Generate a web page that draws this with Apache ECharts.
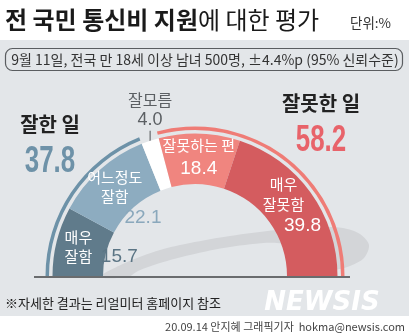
<!DOCTYPE html>
<html><head><meta charset="utf-8">
<script src="https://cdn.jsdelivr.net/npm/echarts/dist/echarts.min.js"></script>
<style>html,body{margin:0;padding:0;background:#fff}#c{width:409px;height:334px}</style>
</head><body><div id="c"></div><script>
// ---- data ----
const categories = ['매우 잘함', '어느정도 잘함', '잘모름', '잘못하는 편', '매우 잘못함'];
const values = [15.7, 22.1, 4.0, 18.4, 39.8];
const labelTexts = ['매우\n잘함', '어느정도\n잘함', '잘모름', '잘못하는 편', '매우\n잘못함'];
const groupNames = ['잘한 일', '잘모름', '잘못한 일'];
const groupMembers = [[0, 1], [2], [3, 4]];
const titleBold = '전 국민 통신비 지원';
const titleRest = '에 대한 평가';
const unitText = '단위:%';
const subtitle = '9월 11일, 전국 만 18세 이상 남녀 500명, ±4.4%p (95% 신뢰수준)';
const noteText = '※자세한 결과는 리얼미터 홈페이지 참조';
const creditText = '20.09.14 안지혜 그래픽기자  hokma@newsis.com';

// ---- style ----
const KR = "'Noto Sans CJK KR', 'Noto Sans', sans-serif";
const NUM = "'Liberation Sans', 'Roboto', sans-serif";
const colors = ['#607b8b', '#8dacc0', '#ffffff', '#f0857f', '#d45c5f'];
const groupColors = ['#6d92a8', 'rgba(0,0,0,0)', '#ef7c76'];
const CX = 195, CY = 276;

const groupValues = groupMembers.map(m => +m.reduce((s, i) => s + values[i], 0).toFixed(1));

function mainLabel(i) {
  const v = values[i].toFixed(1);
  const base = { show: true, position: 'inside', color: '#fff', fontFamily: KR, fontSize: 15, lineHeight: 19 };
  if (i === 0 || i === 1) return Object.assign(base, { formatter: labelTexts[i] });
  if (i === 2) return {
    show: true, position: 'outside', formatter: '{t|' + labelTexts[i] + '}\n{n|' + v + '}',
    rich: { t: { fontFamily: KR, fontSize: 16, color: '#5b5f63', lineHeight: 22, align: 'center' },
            n: { fontFamily: NUM, fontSize: 18, color: '#5b5f63', lineHeight: 18, align: 'center' } }
  };
  if (i === 3) return Object.assign(base, {
    formatter: '{t|' + labelTexts[i] + '}\n{n|' + v + '}',
    rich: { t: { fontFamily: KR, fontSize: 15, color: '#fff', lineHeight: 25 },
            n: { fontFamily: NUM, fontSize: 19, color: '#fff', lineHeight: 22 } }
  });
  const parts = labelTexts[i].split('\n').map(s => '{t|' + s + '}');
  return Object.assign(base, {
    formatter: parts.join('\n') + '\n{n|' + v + '}',
    rich: { t: { fontFamily: KR, fontSize: 15, color: '#fff', lineHeight: 20, padding: [0, 18, 0, 0] },
            n: { fontFamily: NUM, fontSize: 19, color: '#fff', lineHeight: 22, padding: [0, 0, 0, 20] } }
  });
}

const numColors = ['#5b7585', '#8aa8bc'];

const chart = echarts.init(document.getElementById('c'), null, { renderer: 'canvas' });
chart.setOption({
  animation: false,
  backgroundColor: '#ffffff',
  graphic: [
    { type: 'rect', z: -10, shape: { x: 0, y: 40, width: 409, height: 276 }, style: { fill: '#e3e6e9' } },
    { type: 'polygon', z: -5, shape: { smooth: 0.3, points: [
      [100, 277], [125, 263], [160, 250], [190, 243], [230, 236], [277, 230], [320, 227], [343, 228],
      [360, 234], [369, 245], [364, 258], [350, 266], [335, 270], [318, 271], [300, 252], [277, 243],
      [230, 247], [190, 255], [160, 263], [138, 271], [128, 277]] }, style: { fill: '#d3d5d8' } },
    { type: 'rect', z: 1, shape: { x: 5.5, y: 48.5, width: 397, height: 22, r: 7 }, style: { fill: 'none', stroke: '#5a5d60', lineWidth: 1.2 } },
    { type: 'text', z: 1, x: 5, y: 20, style: { text: '{b|' + titleBold + '}{r|' + titleRest + '}', verticalAlign: 'middle',
      rich: { b: { fontFamily: KR, fontSize: 24, fontWeight: 'bold', fill: '#1a1a1a' },
              r: { fontFamily: KR, fontSize: 24, fontWeight: 'normal', fill: '#1a1a1a' } } } },
    { type: 'text', z: 1, x: 350, y: 23, style: { text: unitText, fontFamily: KR, fontSize: 13.5, fill: '#333', verticalAlign: 'middle' } },
    { type: 'text', z: 1, x: 205, y: 59.5, style: { text: subtitle, fontFamily: KR, fontSize: 14, fill: '#333', align: 'center', verticalAlign: 'middle' } },
    { type: 'text', z: 1, x: 50, y: 124, style: { text: groupNames[0], fontFamily: KR, fontSize: 20, fontWeight: 'bold', fill: '#222', align: 'center', verticalAlign: 'middle' } },
    { type: 'text', z: 1, x: 50, y: 162, scaleX: 0.7, style: { text: groupValues[0].toFixed(1), fontFamily: NUM, fontSize: 37, fontWeight: 'bold', fill: '#6e92a8', align: 'center', verticalAlign: 'middle' } },
    { type: 'text', z: 1, x: 321, y: 103, style: { text: groupNames[2], fontFamily: KR, fontSize: 20, fontWeight: 'bold', fill: '#222', align: 'center', verticalAlign: 'middle' } },
    { type: 'text', z: 1, x: 321, y: 141, scaleX: 0.7, style: { text: groupValues[2].toFixed(1), fontFamily: NUM, fontSize: 37, fontWeight: 'bold', fill: '#e8636a', align: 'center', verticalAlign: 'middle' } },
    { type: 'line', z: 100, shape: { x1: 34, y1: 277, x2: 350, y2: 277 }, style: { stroke: '#6a6c6e', lineWidth: 2 } },
    { type: 'text', z: 1, x: 5, y: 303, style: { text: noteText, fontFamily: KR, fontSize: 13, fill: '#222', verticalAlign: 'middle' } },
    { type: 'text', z: 1, x: 322, y: 303, style: { text: 'NEWSIS', fontFamily: "'DejaVu Sans', sans-serif", fontSize: 26, fontWeight: 'bold', fontStyle: 'italic', fill: '#ffffff', align: 'center', verticalAlign: 'middle' } },
    { type: 'text', z: 1, x: 405, y: 327, style: { text: creditText, fontFamily: KR, fontSize: 11, fill: '#444', align: 'right', verticalAlign: 'middle' } }
  ],
  series: [
    {
      type: 'pie', center: [CX, CY], radius: [92, 142.5], startAngle: 180, endAngle: 0, clockwise: true,
      silent: true, avoidLabelOverlap: false, z: 3,
      data: categories.map((c, i) => ({
        name: c, value: values[i], itemStyle: { color: colors[i] }, label: mainLabel(i),
        labelLine: i === 2 ? { show: true, length: 12, length2: 0, lineStyle: { color: '#4d5054', width: 1 } } : { show: false }
      })),
      labelLayout: function (p) {
        if (p.dataIndex !== 2 || !p.labelLinePoints) return {};
        const a = p.labelLinePoints[0];
        return { x: a[0], y: a[1] - 12, align: 'center', verticalAlign: 'bottom',
          labelLinePoints: [[a[0], a[1] + 6], [a[0], a[1] - 10], [a[0], a[1] - 10]] };
      }
    },
    {
      type: 'pie', center: [CX, CY], radius: [146, 149.5], startAngle: 180, endAngle: 0, clockwise: true,
      silent: true, label: { show: false }, labelLine: { show: false }, z: 3,
      data: groupNames.map((g, i) => ({ name: g, value: groupValues[i], itemStyle: { color: groupColors[i] } }))
    },
    {
      type: 'pie', center: [CX, CY], radius: [58, 92], startAngle: 180, endAngle: 0, clockwise: true,
      silent: true, z: 4, labelLine: { show: false },
      data: categories.map((c, i) => ({
        name: c, value: values[i], itemStyle: { color: 'rgba(0,0,0,0)' },
        label: i < 2 ? { show: true, position: 'inside', formatter: values[i].toFixed(1), color: numColors[i], fontFamily: NUM, fontSize: 19 } : { show: false }
      }))
    }
  ]
});
</script></body></html>
